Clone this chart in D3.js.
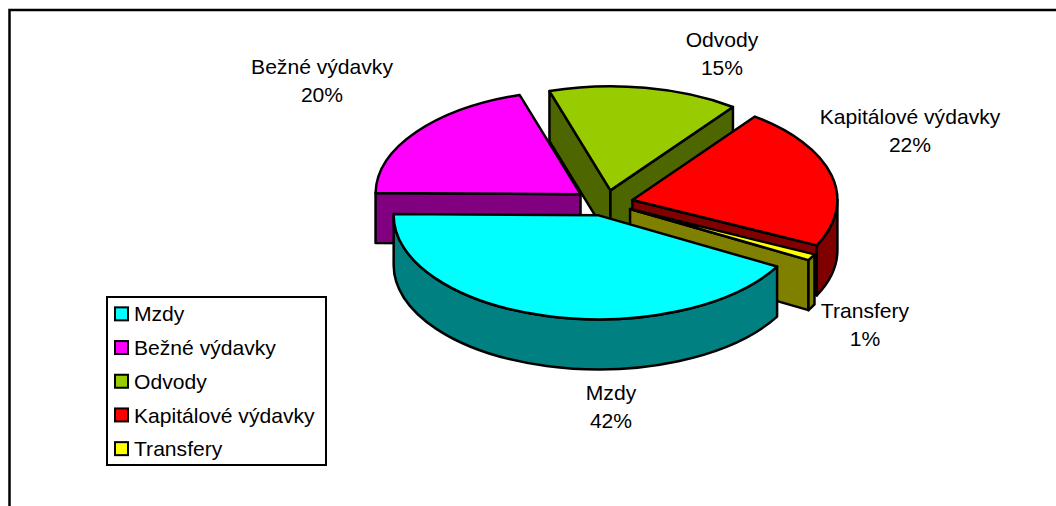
<!DOCTYPE html>
<html>
<head>
<meta charset="utf-8">
<script src="https://cdn.jsdelivr.net/npm/d3@7"></script>
<style>
   html, body { margin: 0; padding: 0; background: #fff; overflow: hidden; }
   text { font-family: "Liberation Sans", Arial, sans-serif; fill: #000; }
</style>
</head>
<body>
<div id="chart"></div>
<script>
const aCategory = ["Mzdy", "Bežné výdavky", "Odvody", "Kapitálové výdavky", "Transfery"];
const aValue = [42, 20, 15, 22, 1];
const aColorTop = ["#00ffff", "#ff00ff", "#99cc00", "#ff0000", "#ffff00"];
const aColorSide = ["#008080", "#800080", "#4d6600", "#800000", "#808000"];
const aDrawOrder = [1, 2, 3, 4, 0];                                    // back to front
const aExplode = [1, 1.15, 1, 1, 1];                                   // how far each slice is pulled out
// label anchors, center of the two text lines
const aLabelX = [611, 322, 722, 910, 865];
const aLabelY = [407, 81, 54, 131, 325];

const iWidth = 1056, iHeight = 506;
const oPie = { cx: 605.8, cy: 203, rx: 205, ry: 104, depth: 50, explodeX: 27.4, explodeY: 12.8 };
const oLegend = { x: 107, y: 297, width: 219, height: 168, row: 33.7 };
const iFontSize = 21.1;
const aStart = 119.5 * Math.PI / 180;                                  // first slice starts lower right

const d3Svg = d3.select("#chart").append("svg").attr("width", iWidth).attr("height", iHeight);

// chart frame, only the left and top edge are inside the picture
d3Svg.append("path")
   .attr("d", `M9.5,${iHeight}V10H${iWidth}`)
   .attr("fill", "none").attr("stroke", "#000").attr("stroke-width", 2.5);

const aSlice = d3.pie().sort(null).startAngle(aStart).endAngle(aStart + Math.PI * 2)(aValue);

const d3X = d3.scaleLinear().domain([-1, 1]).range([-oPie.rx, oPie.rx]);
const d3Y = d3.scaleLinear().domain([-1, 1]).range([-oPie.ry, oPie.ry]);
const pointX = a => d3X(Math.sin(a));
const pointY = a => d3Y(-Math.cos(a));

// outer wall, only the part of the rim facing the viewer
function outerWall(a0, a1) {
   const a = (a0 % (Math.PI * 2));
   const b = a + (a1 - a0);
   const aFrom = Math.max(a, Math.PI / 2), aTo = Math.min(b, Math.PI * 3 / 2);
   if (aFrom >= aTo) return null;
   const large = aTo - aFrom > Math.PI ? 1 : 0;
   return `M${pointX(aFrom)},${pointY(aFrom)}`
      + `A${oPie.rx},${oPie.ry} 0 ${large} 1 ${pointX(aTo)},${pointY(aTo)}`
      + `V${pointY(aTo) + oPie.depth}`
      + `A${oPie.rx},${oPie.ry} 0 ${large} 0 ${pointX(aFrom)},${pointY(aFrom) + oPie.depth}Z`;
}

function radialWall(a) {
   return `M0,0L${pointX(a)},${pointY(a)}V${pointY(a) + oPie.depth}L0,${oPie.depth}Z`;
}

function topFace(a0, a1) {
   const large = a1 - a0 > Math.PI ? 1 : 0;
   return `M0,0L${pointX(a0)},${pointY(a0)}`
      + `A${oPie.rx},${oPie.ry} 0 ${large} 1 ${pointX(a1)},${pointY(a1)}Z`;
}

const d3Pie = d3Svg.append("g")
   .attr("stroke", "#000").attr("stroke-width", 2.5).attr("stroke-linejoin", "round");

aDrawOrder.forEach(i => {
   const o = aSlice[i];
   const aMid = (o.startAngle + o.endAngle) / 2;
   const g = d3Pie.append("g").attr("transform",
      `translate(${oPie.cx + aExplode[i] * oPie.explodeX * Math.sin(aMid)},${oPie.cy - aExplode[i] * oPie.explodeY * Math.cos(aMid)})`);
   // a cut wall shows only if going down from its edge leaves the slice
   if (Math.sin(o.startAngle) < 0) g.append("path").attr("d", radialWall(o.startAngle)).attr("fill", aColorSide[i]);
   if (Math.sin(o.endAngle) > 0) g.append("path").attr("d", radialWall(o.endAngle)).attr("fill", aColorSide[i]);
   const sOuter = outerWall(o.startAngle, o.endAngle);
   if (sOuter) g.append("path").attr("d", sOuter).attr("fill", aColorSide[i]);
   g.append("path").attr("d", topFace(o.startAngle, o.endAngle)).attr("fill", aColorTop[i]);
});

// data labels
const d3Label = d3Svg.append("g").attr("font-size", iFontSize).attr("text-anchor", "middle");
aCategory.forEach((sName, i) => {
   const d3Text = d3Label.append("text").attr("x", aLabelX[i]).attr("y", aLabelY[i]);
   d3Text.append("tspan").attr("x", aLabelX[i]).attr("dy", "-0.32em").text(sName);
   d3Text.append("tspan").attr("x", aLabelX[i]).attr("dy", "1.33em").text(aValue[i] + "%");
});

// legend
const d3Legend = d3Svg.append("g").attr("transform", `translate(${oLegend.x},${oLegend.y})`);
d3Legend.append("rect")
   .attr("x", 0).attr("y", 0).attr("width", oLegend.width).attr("height", oLegend.height)
   .attr("fill", "#fff").attr("stroke", "#000").attr("stroke-width", 2);
const d3Row = d3.scaleBand().domain(aCategory).range([0, oLegend.row * aCategory.length]);
aCategory.forEach((sName, i) => {
   const y = d3Row(sName) + d3Row.bandwidth() / 2;
   d3Legend.append("rect")
      .attr("x", 8).attr("y", y - 6.5).attr("width", 13).attr("height", 13)
      .attr("fill", aColorTop[i]).attr("stroke", "#000").attr("stroke-width", 2);
   d3Legend.append("text")
      .attr("x", 27).attr("y", y).attr("dy", "0.36em").attr("font-size", iFontSize).text(sName);
});
</script>
</body>
</html>
